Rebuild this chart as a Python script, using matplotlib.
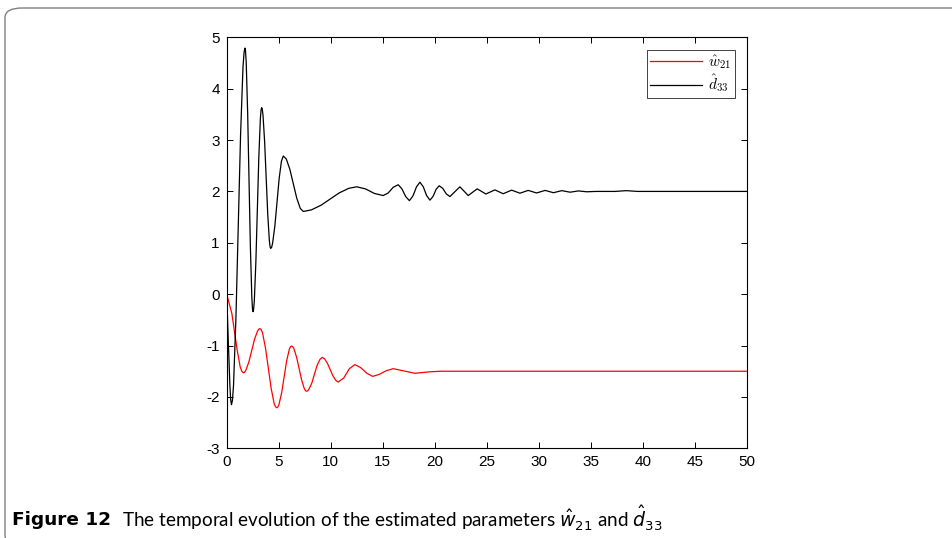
import matplotlib
matplotlib.use("Agg")
import matplotlib.pyplot as plt
from matplotlib.patches import FancyBboxPatch
from matplotlib.font_manager import FontProperties

plt.rcParams["font.family"] = "Liberation Sans"
plt.rcParams["axes.unicode_minus"] = False

# estimated parameter d33 (black)
t_d33 = [0, 0.15, 0.3, 0.38, 0.46, 0.55,
         0.655, 0.889, 1.11, 1.331, 1.565, 1.67, 1.76, 1.81,
         1.876, 2.014, 2.145, 2.276, 2.415, 2.476, 2.53, 2.588,
         2.655, 2.804, 2.945, 3.086, 3.236, 3.30, 3.36, 3.42,
         3.49, 3.647, 3.795, 3.943, 4.10, 4.17, 4.23, 4.315,
         4.41, 4.63, 4.835, 5.04, 5.26, 5.44,
         5.73, 6.07, 6.40, 6.73, 7.07, 7.36,
         8.13, 9.05, 9.93, 10.8, 11.73, 12.49,
         13.33, 13.77, 14.2, 15.04,
         15.52, 15.76, 16.0, 16.48,
         16.84, 17.02, 17.2, 17.56,
         17.89, 18.07, 18.24, 18.57,
         18.89, 19.05, 19.21, 19.53,
         19.82, 19.975, 20.12, 20.42,
         20.76, 20.935, 21.11, 21.45,
         22.41, 23.21, 24.07, 24.91, 25.77, 26.57, 27.38, 28.18, 28.97, 29.78,
         30.6, 31.4, 32.2, 33.0, 33.8, 34.6, 35.5, 37.3, 38.4, 39.5, 50]
d33 = [0, -0.9, -1.75, -2.05, -2.15, -2.07,
       -1.78, -0.45, 1.32, 3.09, 4.42, 4.71, 4.79, 4.73,
       4.51, 3.53, 2.225, 0.92, -0.06, -0.28, -0.34, -0.29,
       -0.13, 0.63, 1.645, 2.66, 3.42, 3.58, 3.63, 3.60,
       3.48, 2.96, 2.26, 1.56, 1.04, 0.92, 0.89, 0.91,
       0.99, 1.33, 1.79, 2.25, 2.59, 2.69,
       2.63, 2.43, 2.15, 1.87, 1.67, 1.61,
       1.64, 1.73, 1.85, 1.97, 2.06, 2.09,
       2.05, 2.005, 1.96, 1.92,
       1.97, 2.025, 2.08, 2.13,
       2.05, 1.975, 1.90, 1.82,
       1.91, 2.00, 2.09, 2.18,
       2.09, 2.005, 1.92, 1.83,
       1.90, 1.97, 2.04, 2.11,
       2.06, 2.005, 1.95, 1.90,
       2.09, 1.92, 2.05, 1.95, 2.03, 1.955, 2.025, 1.965, 2.02, 1.97,
       2.02, 1.975, 2.015, 1.985, 2.01, 1.993, 2.0, 2.0, 2.015, 2.0, 2.0]

# estimated parameter w21 (red)
t_w21 = [0, 0.5, 1.0, 1.3, 1.45, 1.6, 1.72,
         1.84, 2.13, 2.4, 2.67, 2.96, 3.09, 3.2, 3.31,
         3.44, 3.73, 4.0, 4.27, 4.56, 4.69, 4.80, 4.90,
         5.02, 5.28, 5.52, 5.76, 6.02, 6.14, 6.24, 6.34,
         6.46, 6.72, 6.96, 7.20, 7.46, 7.58, 7.68, 7.78,
         7.9, 8.18, 8.43, 8.68, 8.96, 9.18,
         9.41, 9.69, 9.95, 10.21, 10.49, 10.72,
         11.25, 11.52, 11.79, 12.32,
         12.88, 13.18, 13.47, 14.03,
         14.68, 15.0, 15.33, 16.0,
         17.05, 18.09, 19.3, 20.5, 22, 50]
w21 = [0, -0.38, -1.08, -1.42, -1.50, -1.53, -1.52,
       -1.48, -1.32, -1.10, -0.88, -0.72, -0.68, -0.67, -0.69,
       -0.75, -1.05, -1.44, -1.83, -2.13, -2.19, -2.21, -2.20,
       -2.15, -1.92, -1.61, -1.30, -1.07, -1.02, -1.01, -1.02,
       -1.06, -1.23, -1.45, -1.67, -1.84, -1.88, -1.89, -1.88,
       -1.85, -1.73, -1.56, -1.39, -1.27, -1.23,
       -1.26, -1.35, -1.47, -1.59, -1.68, -1.71,
       -1.63, -1.54, -1.45, -1.37,
       -1.43, -1.485, -1.54, -1.60,
       -1.56, -1.525, -1.49, -1.45,
       -1.495, -1.54, -1.515, -1.50, -1.50, -1.50]

labels = [r"$\hat{w}_{21}$", r"$\hat{d}_{33}$"]
xticks = list(range(0, 51, 5))
yticks = list(range(-3, 6))
caption_bold = "Figure 12"
caption_rest = r"The temporal evolution of the estimated parameters $\hat{w}_{21}$ and $\hat{d}_{33}$"

fig = plt.figure(figsize=(9.53, 5.38), dpi=100)

# rounded frame around the figure panel (open to the right)
frame = FancyBboxPatch((5 / 953, 1 - 545 / 538), 1.2, (545 - 8) / 538,
                       boxstyle="round,pad=0,rounding_size=0.018",
                       transform=fig.transFigure, facecolor="none",
                       edgecolor="#808080", linewidth=1.0, clip_on=False)
fig.patches.append(frame)

ax = fig.add_axes([226.7 / 953, 1 - 448.3 / 538, (747 - 226.7) / 953, (448.3 - 37.3) / 538])
ax.plot(t_w21, w21, color="red", linewidth=0.9, label=labels[0])
ax.plot(t_d33, d33, color="black", linewidth=0.9, label=labels[1])

ax.set_xlim(0, 50)
ax.set_ylim(-3, 5)
ax.set_xticks(xticks)
ax.set_yticks(yticks)
ax.tick_params(direction="in", length=4, width=0.7, top=True, right=True,
               labelsize=11, pad=5)
for s in ax.spines.values():
    s.set_linewidth(0.8)

leg_font = FontProperties(size=11, math_fontfamily="cm")
leg = ax.legend(loc="upper right", bbox_to_anchor=((735 - 226.7) / 520.3, (448.3 - 50) / 411),
                borderaxespad=0, prop=leg_font, handlelength=3.4, fancybox=False,
                framealpha=1, edgecolor="#222222", borderpad=0.2, labelspacing=0.1,
                handletextpad=0.4)
leg.get_frame().set_linewidth(0.6)

# caption: bold label then plain text on the same baseline
t1 = fig.text(12 / 953, 1 - 525 / 538, caption_bold, fontsize=13.3, fontweight="bold",
              family="DejaVu Sans", va="baseline", ha="left")
fig.canvas.draw()
bb = t1.get_window_extent(renderer=fig.canvas.get_renderer())
fig.text((bb.x1 + 11) / 953, 1 - 528 / 538, caption_rest, fontsize=13.6, family="Lato",
         math_fontfamily="dejavusans", va="baseline", ha="left")

fig.savefig("out.png", dpi=100)
